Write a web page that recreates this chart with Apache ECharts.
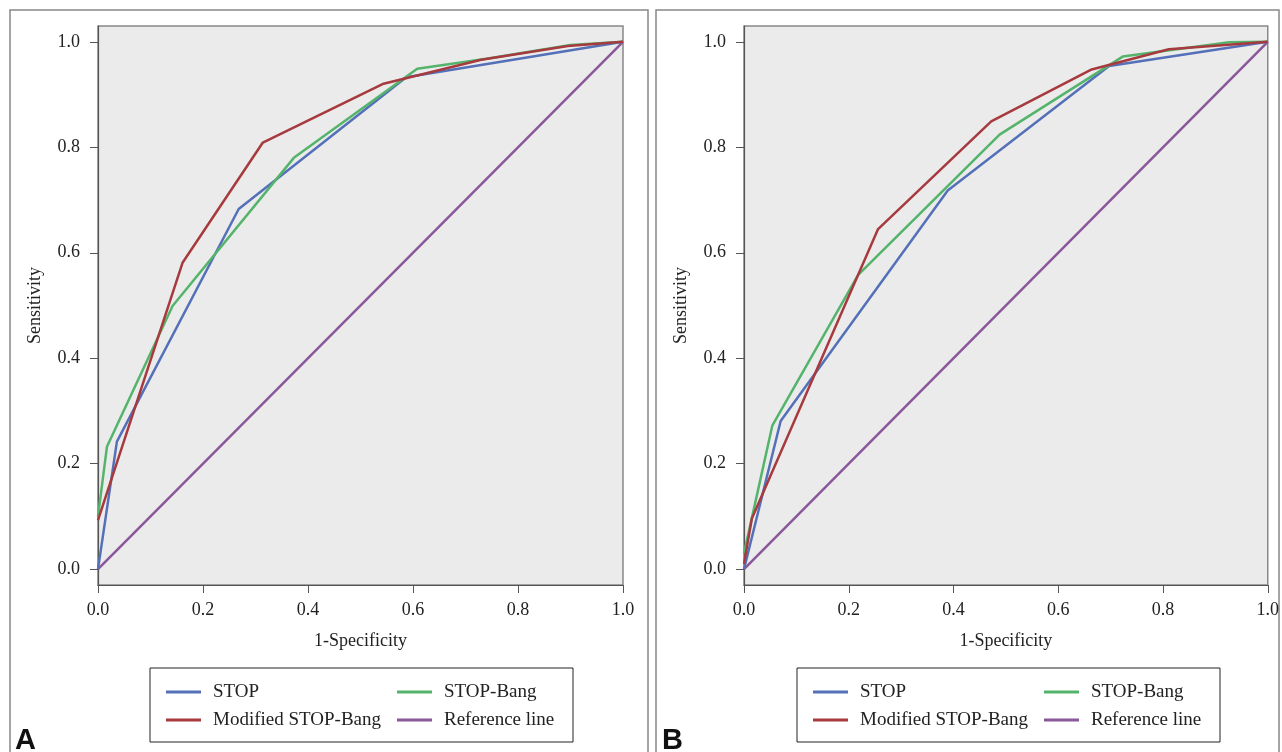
<!DOCTYPE html>
<html>
<head>
<meta charset="utf-8">
<script src="https://cdn.jsdelivr.net/npm/echarts@6/dist/echarts.min.js"></script>
<style>
  html, body { margin: 0; padding: 0; background: #fff; }
  #chart { width: 1282px; height: 752px; }
</style>
</head>
<body>
<div id="chart"></div>
<script>
// ROC curves (1-Specificity, Sensitivity)
const ticks = [0, 0.2, 0.4, 0.6, 0.8, 1.0];

// panel A
const stopAx = [0, 0.036, 0.268, 0.587, 1];
const stopAy = [0, 0.242, 0.683, 0.933, 1];
const bangAx = [0, 0.017, 0.142, 0.373, 0.608, 0.74, 0.9, 1];
const bangAy = [0.1, 0.232, 0.499, 0.78, 0.949, 0.968, 0.994, 1];
const modAx = [0, 0.161, 0.314, 0.542, 0.73, 0.895, 1];
const modAy = [0.093, 0.581, 0.809, 0.92, 0.966, 0.992, 1];

// panel B
const stopBx = [0, 0.07, 0.389, 0.697, 1];
const stopBy = [0, 0.281, 0.718, 0.954, 1];
const bangBx = [0, 0.054, 0.218, 0.488, 0.723, 0.926, 1];
const bangBy = [0.03, 0.272, 0.558, 0.824, 0.972, 0.999, 1];
const modBx = [0, 0.015, 0.256, 0.472, 0.662, 0.811, 1];
const modBy = [0.01, 0.096, 0.645, 0.849, 0.947, 0.986, 1];

const refX = [0, 1];
const refY = [0, 1];

const names = ['STOP', 'STOP-Bang', 'Modified STOP-Bang', 'Reference line'];
const colors = ['#5470b8', '#55b46b', '#a63a3e', '#8b579b'];

const zip = (xs, ys) => xs.map((x, i) => [x, ys[i]]);
const serif = "'Liberation Serif', 'DejaVu Serif', serif";
const txt = '#222';

function xAx(idx) {
  return {
    type: 'value', gridIndex: idx, min: 0, max: 1,
    name: '1-Specificity', nameLocation: 'middle', nameGap: 47,
    nameTextStyle: { fontFamily: serif, fontSize: 18, color: txt },
    axisLine: { onZero: false, lineStyle: { color: '#555', width: 1.2 } },
    axisTick: { length: 8, lineStyle: { color: '#555' }, customValues: ticks },
    axisLabel: { margin: 16, fontFamily: serif, fontSize: 18, color: txt,
      customValues: ticks, formatter: v => v.toFixed(1) },
    splitLine: { show: false }
  };
}
function yAx(idx) {
  return {
    type: 'value', gridIndex: idx, min: -0.03, max: 1.03,
    name: 'Sensitivity', nameLocation: 'middle', nameGap: 54,
    nameTextStyle: { fontFamily: serif, fontSize: 18, color: txt },
    axisLine: { show: true, onZero: false, lineStyle: { color: '#555', width: 1.2 } },
    axisTick: { show: true, length: 8, lineStyle: { color: '#555' }, customValues: ticks },
    axisLabel: { margin: 18, fontFamily: serif, fontSize: 18, color: txt,
      customValues: ticks, formatter: v => v.toFixed(1) },
    splitLine: { show: false }
  };
}

function line(name, data, idx) {
  const c = colors[names.indexOf(name)];
  return {
    name, type: 'line', xAxisIndex: idx, yAxisIndex: idx,
    data, symbol: 'none', color: c,
    lineStyle: { color: c, width: 2.5 }
  };
}

function legend(left, data) {
  return {
    left, top: 682, orient: 'vertical', padding: 0, itemGap: 8,
    icon: 'rect', itemWidth: 35, itemHeight: 3, selectedMode: false,
    data,
    textStyle: { fontFamily: serif, fontSize: 19, color: txt, lineHeight: 20, padding: [0, 0, 0, 7] }
  };
}

const chart = echarts.init(document.getElementById('chart'));
chart.setOption({
  animation: false,
  backgroundColor: '#fff',
  grid: [
    { left: 98, top: 26, width: 525, height: 559, show: true,
      backgroundColor: '#ebebeb', borderColor: '#888', borderWidth: 1.5 },
    { left: 744, top: 26, width: 525, height: 559, show: true,
      backgroundColor: '#ebebeb', borderColor: '#888', borderWidth: 1.5 }
  ],
  xAxis: [xAx(0), xAx(1)],
  yAxis: [yAx(0), yAx(1)],
  legend: [
    legend(166, ['STOP', 'Modified STOP-Bang']),
    legend(397, ['STOP-Bang', 'Reference line']),
    legend(813, ['STOP', 'Modified STOP-Bang']),
    legend(1044, ['STOP-Bang', 'Reference line'])
  ],
  graphic: [
    { type: 'rect', shape: { x: 10, y: 10, width: 638, height: 800 },
      style: { fill: 'none', stroke: '#888', lineWidth: 1.5 } },
    { type: 'rect', shape: { x: 656, y: 10, width: 623, height: 800 },
      style: { fill: 'none', stroke: '#888', lineWidth: 1.5 } },
    { type: 'rect', shape: { x: 150, y: 668, width: 423, height: 74 },
      style: { fill: 'none', stroke: '#222', lineWidth: 1 } },
    { type: 'rect', shape: { x: 797, y: 668, width: 423, height: 74 },
      style: { fill: 'none', stroke: '#222', lineWidth: 1 } },
    { type: 'text', left: 15, top: 726,
      style: { text: 'A', font: "bold 29px 'Liberation Sans', Arial, sans-serif", fill: '#111' } },
    { type: 'text', left: 662, top: 726,
      style: { text: 'B', font: "bold 29px 'Liberation Sans', Arial, sans-serif", fill: '#111' } }
  ],
  series: [
    line('Reference line', zip(refX, refY), 0),
    line('STOP', zip(stopAx, stopAy), 0),
    line('STOP-Bang', zip(bangAx, bangAy), 0),
    line('Modified STOP-Bang', zip(modAx, modAy), 0),
    line('Reference line', zip(refX, refY), 1),
    line('STOP', zip(stopBx, stopBy), 1),
    line('STOP-Bang', zip(bangBx, bangBy), 1),
    line('Modified STOP-Bang', zip(modBx, modBy), 1)
  ]
});
</script>
</body>
</html>
